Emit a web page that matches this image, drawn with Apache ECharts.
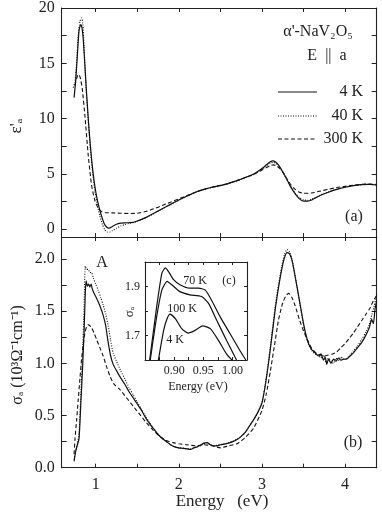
<!DOCTYPE html>
<html>
<head>
<meta charset="utf-8">
<script src="https://cdn.jsdelivr.net/npm/echarts@6/dist/echarts.min.js"></script>
<style>
html, body { margin: 0; padding: 0; background: #fff; }
#chart { width: 382px; height: 525px; }
</style>
</head>
<body>
<div id="chart"></div>
<script>
// eps' (panel a), [energy eV, value]
var eps4K = [[0.74,11.9],[0.76,13.5],[0.78,15.8],[0.80,18.0],[0.82,18.5],[0.835,18.2],[0.85,17.2],[0.87,14.8],[0.89,12.3],[0.92,9.0],[0.95,6.4],[0.98,4.4],[1.01,3.0],[1.04,2.0],[1.07,1.2],[1.10,0.55],[1.13,0.2],[1.16,0.1],[1.20,0.25],[1.25,0.45],[1.30,0.55],[1.35,0.58],[1.40,0.6],[1.45,0.62],[1.50,0.75],[1.60,1.05],[1.70,1.45],[1.80,1.85],[1.90,2.25],[2.00,2.65],[2.10,3.0],[2.20,3.35],[2.30,3.6],[2.40,3.8],[2.50,3.95],[2.60,4.15],[2.70,4.4],[2.80,4.68],[2.90,5.0],[3.00,5.5],[3.05,5.8],[3.10,6.1],[3.13,6.18],[3.16,6.1],[3.20,5.8],[3.25,5.2],[3.30,4.5],[3.34,3.9],[3.40,3.2],[3.45,2.75],[3.50,2.55],[3.55,2.55],[3.60,2.65],[3.70,3.05],[3.80,3.35],[3.90,3.6],[4.00,3.8],[4.10,3.95],[4.20,4.03],[4.30,4.06],[4.38,4.0]];
var eps40K = [[0.73,12.8],[0.75,13.3],[0.77,15.0],[0.79,17.5],[0.81,18.8],[0.83,19.1],[0.845,18.6],[0.86,16.5],[0.88,13.3],[0.90,11.0],[0.93,7.8],[0.96,5.3],[0.99,3.5],[1.02,2.2],[1.05,1.2],[1.08,0.45],[1.11,-0.05],[1.14,-0.25],[1.17,-0.25],[1.20,-0.12],[1.25,0.1],[1.30,0.3],[1.35,0.42],[1.40,0.52],[1.45,0.6],[1.50,0.72],[1.60,1.02],[1.70,1.42],[1.80,1.83],[1.90,2.23],[2.00,2.63],[2.10,2.98],[2.20,3.33],[2.30,3.58],[2.40,3.78],[2.50,3.95],[2.60,4.14],[2.70,4.38],[2.80,4.66],[2.90,4.95],[3.00,5.42],[3.05,5.7],[3.10,5.98],[3.13,6.05],[3.16,5.98],[3.20,5.7],[3.25,5.15],[3.30,4.5],[3.34,3.95],[3.40,3.28],[3.45,2.85],[3.50,2.65],[3.55,2.62],[3.60,2.72],[3.70,3.08],[3.80,3.38],[3.90,3.62],[4.00,3.82],[4.10,3.96],[4.20,4.04],[4.30,4.07],[4.38,4.02]];
var eps300K = [[0.75,13.0],[0.77,13.6],[0.79,14.0],[0.805,13.9],[0.82,13.5],[0.84,12.6],[0.87,10.3],[0.91,6.7],[0.95,4.0],[0.99,2.6],[1.03,1.9],[1.07,1.6],[1.11,1.5],[1.20,1.48],[1.30,1.45],[1.40,1.42],[1.50,1.45],[1.60,1.6],[1.70,1.85],[1.80,2.15],[1.90,2.45],[2.00,2.75],[2.10,3.05],[2.20,3.35],[2.30,3.6],[2.40,3.8],[2.50,3.97],[2.60,4.15],[2.70,4.4],[2.80,4.68],[2.90,4.95],[3.00,5.35],[3.05,5.55],[3.10,5.75],[3.14,5.82],[3.18,5.7],[3.22,5.45],[3.26,5.05],[3.30,4.55],[3.35,4.0],[3.40,3.6],[3.45,3.35],[3.50,3.25],[3.60,3.28],[3.70,3.45],[3.80,3.62],[3.90,3.77],[4.00,3.88],[4.10,3.98],[4.20,4.07],[4.30,4.08],[4.38,4.05]];

// sigma (panel b), 10^3 Ohm^-1 cm^-1
var sigma4K = [[0.74,0.06],[0.76,0.16],[0.78,0.22],[0.80,0.28],[0.82,0.6],[0.84,0.92],[0.86,1.3],[0.875,1.68],[0.885,1.79],[0.90,1.74],[0.915,1.76],[0.93,1.73],[0.945,1.76],[0.96,1.71],[0.98,1.67],[1.00,1.64],[1.03,1.59],[1.06,1.53],[1.09,1.46],[1.12,1.36],[1.15,1.2],[1.18,1.07],[1.21,0.99],[1.25,0.93],[1.30,0.86],[1.35,0.8],[1.40,0.73],[1.45,0.67],[1.50,0.61],[1.55,0.55],[1.60,0.48],[1.65,0.42],[1.70,0.37],[1.75,0.32],[1.80,0.28],[1.85,0.25],[1.90,0.22],[1.95,0.2],[2.00,0.19],[2.05,0.185],[2.10,0.18],[2.14,0.175],[2.18,0.19],[2.22,0.2],[2.26,0.215],[2.30,0.235],[2.34,0.24],[2.38,0.22],[2.42,0.21],[2.46,0.21],[2.50,0.22],[2.55,0.225],[2.60,0.235],[2.65,0.25],[2.70,0.27],[2.75,0.3],[2.80,0.34],[2.85,0.4],[2.90,0.46],[2.95,0.53],[3.00,0.62],[3.04,0.79],[3.08,1.01],[3.12,1.26],[3.16,1.52],[3.20,1.73],[3.24,1.91],[3.27,2.01],[3.30,2.06],[3.33,2.05],[3.36,1.99],[3.39,1.87],[3.42,1.74],[3.46,1.56],[3.50,1.38],[3.53,1.27],[3.56,1.19],[3.60,1.13],[3.64,1.1],[3.68,1.07],[3.71,1.09],[3.74,1.03],[3.76,1.06],[3.78,0.99],[3.80,1.04],[3.83,1.0],[3.86,1.04],[3.89,1.02],[3.92,1.05],[3.95,1.03],[3.98,1.04],[4.02,1.04],[4.06,1.07],[4.10,1.1],[4.15,1.15],[4.20,1.2],[4.25,1.27],[4.29,1.34],[4.32,1.42],[4.34,1.38],[4.36,1.52],[4.38,1.6]];
var sigma40K = [[0.74,0.08],[0.76,0.17],[0.78,0.23],[0.80,0.33],[0.82,0.68],[0.84,1.05],[0.86,1.55],[0.875,1.93],[0.89,1.9],[0.91,1.9],[0.93,1.87],[0.95,1.87],[0.97,1.82],[1.00,1.76],[1.03,1.7],[1.06,1.63],[1.09,1.56],[1.12,1.47],[1.15,1.36],[1.18,1.22],[1.21,1.1],[1.25,1.02],[1.30,0.93],[1.35,0.85],[1.40,0.77],[1.45,0.7],[1.50,0.63],[1.55,0.56],[1.60,0.49],[1.65,0.43],[1.70,0.37],[1.75,0.32],[1.80,0.28],[1.85,0.25],[1.90,0.22],[1.95,0.2],[2.00,0.19],[2.05,0.19],[2.10,0.18],[2.14,0.18],[2.18,0.19],[2.22,0.2],[2.26,0.21],[2.30,0.23],[2.34,0.235],[2.38,0.22],[2.42,0.21],[2.46,0.215],[2.50,0.22],[2.55,0.23],[2.60,0.24],[2.65,0.255],[2.70,0.275],[2.75,0.3],[2.80,0.34],[2.85,0.4],[2.90,0.46],[2.95,0.53],[3.00,0.63],[3.04,0.8],[3.08,1.03],[3.12,1.29],[3.16,1.55],[3.20,1.76],[3.24,1.94],[3.27,2.04],[3.30,2.09],[3.33,2.07],[3.36,2.0],[3.39,1.88],[3.42,1.74],[3.46,1.55],[3.50,1.37],[3.53,1.26],[3.56,1.18],[3.60,1.12],[3.64,1.09],[3.68,1.08],[3.71,1.05],[3.74,1.08],[3.77,1.01],[3.80,1.05],[3.83,1.02],[3.86,1.0],[3.89,1.05],[3.92,1.03],[3.95,1.06],[3.98,1.04],[4.02,1.05],[4.06,1.08],[4.10,1.12],[4.15,1.17],[4.20,1.23],[4.25,1.3],[4.29,1.37],[4.32,1.46],[4.35,1.55],[4.38,1.66]];
var sigma300K = [[0.74,0.13],[0.75,0.27],[0.77,0.45],[0.79,0.65],[0.81,0.85],[0.83,1.04],[0.85,1.18],[0.87,1.29],[0.89,1.35],[0.91,1.37],[0.93,1.36],[0.95,1.34],[0.98,1.29],[1.01,1.23],[1.05,1.15],[1.09,1.07],[1.13,0.97],[1.17,0.88],[1.22,0.8],[1.29,0.75],[1.37,0.67],[1.45,0.59],[1.53,0.51],[1.61,0.43],[1.69,0.36],[1.77,0.3],[1.85,0.26],[1.93,0.24],[2.00,0.23],[2.09,0.22],[2.20,0.21],[2.30,0.22],[2.40,0.21],[2.50,0.19],[2.60,0.21],[2.70,0.23],[2.80,0.29],[2.90,0.38],[3.00,0.55],[3.05,0.7],[3.10,0.92],[3.15,1.17],[3.20,1.42],[3.25,1.58],[3.29,1.65],[3.32,1.67],[3.36,1.63],[3.40,1.55],[3.45,1.42],[3.50,1.31],[3.55,1.22],[3.60,1.14],[3.65,1.1],[3.70,1.08],[3.75,1.07],[3.80,1.08],[3.85,1.09],[3.90,1.11],[3.95,1.15],[4.00,1.19],[4.05,1.24],[4.10,1.29],[4.15,1.35],[4.20,1.41],[4.25,1.47],[4.30,1.53],[4.34,1.6],[4.38,1.65]];

// inset (c)
var inset70K = [[0.858,1.6],[0.87,1.817],[0.879,1.955],[0.885,1.976],[0.89,1.962],[0.899,1.928],[0.91,1.907],[0.927,1.893],[0.942,1.893],[0.953,1.886],[0.964,1.845],[0.979,1.776],[0.996,1.707],[1.013,1.638],[1.023,1.6]];
var inset100K = [[0.859,1.6],[0.87,1.776],[0.879,1.886],[0.888,1.921],[0.896,1.907],[0.91,1.879],[0.927,1.866],[0.947,1.859],[0.959,1.831],[0.973,1.762],[0.99,1.68],[1.007,1.6]];
var inset4K = [[0.873,1.6],[0.882,1.721],[0.888,1.769],[0.893,1.787],[0.902,1.769],[0.913,1.728],[0.924,1.71],[0.936,1.721],[0.949,1.739],[0.962,1.728],[0.976,1.68],[0.99,1.624],[0.999,1.6]];

// ticks
var energyTicks = [1, 1.5, 2, 2.5, 3, 3.5, 4];
var energyLabels = [1, 2, 3, 4];
var epsTicks = [0, 2.5, 5, 7.5, 10, 12.5, 15, 17.5, 20];
var epsLabels = [0, 5, 10, 15, 20];
var sigmaTicks = [0, 0.25, 0.5, 0.75, 1, 1.25, 1.5, 1.75, 2];
var sigmaLabels = [0, 0.5, 1, 1.5, 2];
var insetXTicks = [0.875, 0.9, 0.925, 0.95, 0.975, 1.0];
var insetXLabels = [0.9, 0.95, 1.0];
var insetYTicks = [1.7, 1.8, 1.9];
var insetYLabels = [1.7, 1.9];

var FONT = 'Liberation Serif';
var INK = '#222';

function axis(kind, grid, pos, min, max, ticks, labels, opts) {
  opts = opts || {};
  return {
    type: 'value',
    gridIndex: grid,
    position: pos,
    min: min,
    max: max,
    axisLine: { show: true, onZero: false, lineStyle: { color: INK, width: 1.1 } },
    axisTick: { show: true, inside: true, length: opts.tickLen || 4, customValues: ticks, lineStyle: { color: INK, width: 1 } },
    axisLabel: {
      show: !!labels,
      customValues: labels || [],
      margin: opts.margin || 7,
      color: INK,
      fontFamily: FONT,
      fontSize: opts.fontSize || 16,
      formatter: opts.fmt
    },
    splitLine: { show: false }
  };
}

function line(data, xi, yi, dash, w) {
  return {
    type: 'line',
    xAxisIndex: xi,
    yAxisIndex: yi,
    data: data,
    showSymbol: false,
    symbol: 'none',
    smooth: 0.2,
    animation: false,
    lineStyle: { color: '#111', width: w || 1.1, type: dash || 'solid' }
  };
}

var chart = echarts.init(document.getElementById('chart'));

var txt = function (x, y, text, align, size, rot) {
  return {
    type: 'text', x: x, y: y, rotation: rot || 0,
    style: { text: text, fill: INK, font: (size || 16) + 'px "' + FONT + '"', textAlign: align || 'center', textVerticalAlign: 'middle' }
  };
};
var legendLine = function (y, dash) {
  return {
    type: 'line',
    shape: { x1: 278, y1: y, x2: 317, y2: y },
    style: { stroke: '#111', lineWidth: 1.1, lineDash: dash }
  };
};

chart.setOption({
  animation: false,
  grid: [
    { left: 61.7, top: 7.3, width: 315, height: 229.7 },
    { left: 61.7, top: 237, width: 315, height: 230.7 },
    { left: 145, top: 262, width: 102, height: 98, show: true, backgroundColor: '#fff', borderWidth: 0 }
  ],
  xAxis: [
    axis('x', 0, 'bottom', 0.591, 4.38, energyTicks, null),
    axis('x', 0, 'top', 0.591, 4.38, energyTicks, null),
    axis('x', 1, 'bottom', 0.591, 4.38, energyTicks, energyLabels, { margin: 9 }),
    axis('x', 1, 'top', 0.591, 4.38, energyTicks, null),
    axis('x', 2, 'bottom', 0.85, 1.025, insetXTicks, insetXLabels, { fontSize: 12, margin: 5, tickLen: 3, fmt: function (v) { return v.toFixed(2); } }),
    axis('x', 2, 'top', 0.85, 1.025, insetXTicks, null, { tickLen: 3 })
  ],
  yAxis: [
    axis('y', 0, 'left', -0.7, 20, epsTicks, epsLabels, { margin: 7, tickLen: 5 }),
    axis('y', 0, 'right', -0.7, 20, epsTicks, null, { tickLen: 5 }),
    axis('y', 1, 'left', 0, 2.21, sigmaTicks, sigmaLabels, { margin: 7, tickLen: 5, fmt: function (v) { return v.toFixed(1); } }),
    axis('y', 1, 'right', 0, 2.21, sigmaTicks, null, { tickLen: 5 }),
    axis('y', 2, 'left', 1.6, 2.0, insetYTicks, insetYLabels, { fontSize: 12, margin: 5, tickLen: 3 }),
    axis('y', 2, 'right', 1.6, 2.0, insetYTicks, null, { tickLen: 3 })
  ],
  series: [
    line(eps4K, 0, 0, 'solid', 1.2),
    line(eps40K, 0, 0, [1, 1.5], 1.1),
    line(eps300K, 0, 0, [4, 2.5], 1.1),
    line(sigma4K, 2, 2, 'solid', 1.2),
    line(sigma40K, 2, 2, [1, 1.5], 1.1),
    line(sigma300K, 2, 2, [4, 2.5], 1.1),
    line(inset70K, 4, 4, 'solid', 1.2),
    line(inset100K, 4, 4, 'solid', 1.2),
    line(inset4K, 4, 4, 'solid', 1.2)
  ],
  graphic: [
    txt(17, 126, 'ε\'ₐ', 'center', 17, Math.PI / 2),
    txt(18, 355, 'σₐ (10³Ω⁻¹cm⁻¹)', 'center', 16, Math.PI / 2),
    txt(222, 502, 'Energy   (eV)', 'center', 17),
    txt(318, 32, 'α\'-NaV₂O₅', 'center', 16),
    txt(327, 56, 'E  ||  a', 'center', 16),
    legendLine(92, null),
    legendLine(116, [1, 1.5]),
    legendLine(139, [4, 2.5]),
    txt(363, 92, '4 K', 'right', 16),
    txt(363, 116, '40 K', 'right', 16),
    txt(363, 139, '300 K', 'right', 16),
    txt(354, 217, '(a)', 'center', 16),
    txt(353, 443, '(b)', 'center', 16),
    txt(102, 263, 'A', 'center', 16),
    txt(130, 312, 'σₐ', 'center', 13, Math.PI / 2),
    txt(198, 387, 'Energy (eV)', 'center', 12),
    txt(195, 281, '70 K', 'center', 12),
    txt(182, 309, '100 K', 'center', 12),
    txt(175, 340, '4 K', 'center', 12),
    txt(229, 281, '(c)', 'center', 12)
  ]
});
</script>
</body>
</html>
